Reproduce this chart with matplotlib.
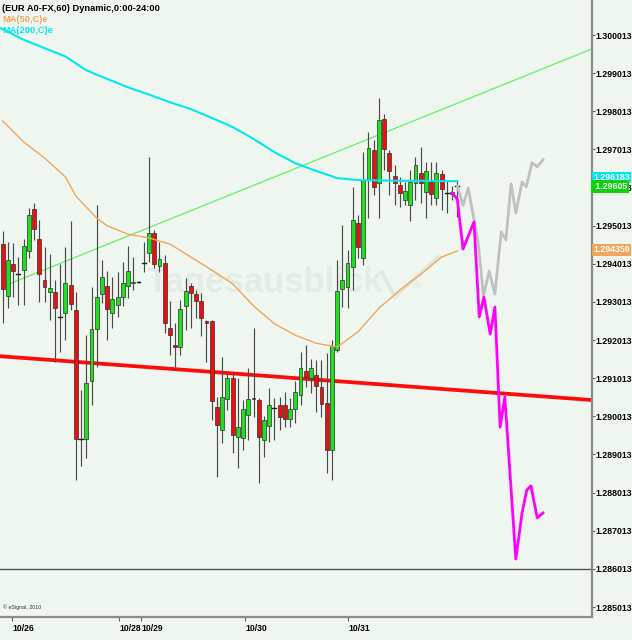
import matplotlib
matplotlib.use('Agg')
import matplotlib.pyplot as plt
from matplotlib.patches import Rectangle

plt.rcParams['font.family'] = ['Liberation Sans', 'DejaVu Sans']

# ---------------- data ----------------
opens = [1.29453, 1.29317, 1.29401, 1.29374, 1.29385, 1.29435, 1.29545, 1.29466, 1.29359, 1.29327,
         1.29327, 1.29262, 1.29272, 1.29346, 1.29280, 1.28942, 1.28942, 1.29093, 1.29230, 1.29322,
         1.29343, 1.29272, 1.29293, 1.29314, 1.29343, 1.29351, 1.29353, 1.29403, 1.29430, 1.29482,
         1.29395, 1.29403, 1.29234, 1.29188, 1.29183, 1.29290, 1.29343, 1.29322, 1.29304, 1.29251,
         1.29251, 1.29026, 1.28965, 1.29047, 1.29102, 1.28947, 1.28944, 1.29005, 1.29049, 1.29044,
         1.28939, 1.28976, 1.29023, 1.29031, 1.29031, 1.28994, 1.29020, 1.29057, 1.29120, 1.29102,
         1.29110, 1.29078, 1.29036, 1.28913, 1.29175, 1.29335, 1.29340, 1.29393, 1.29508, 1.29416,
         1.29624, 1.29700, 1.29613, 1.29781, 1.29692, 1.29631, 1.29608, 1.29569, 1.29555, 1.29613,
         1.29639, 1.29590, 1.29621, 1.29574, 1.29637, 1.29587, 1.29584, 1.29605]
highs = [1.29487, 1.29458, 1.29456, 1.29419, 1.29466, 1.29548, 1.29561, 1.29516, 1.29445, 1.29427,
         1.29359, 1.29401, 1.29445, 1.29513, 1.29327, 1.29070, 1.29214, 1.29340, 1.29555, 1.29411,
         1.29382, 1.29366, 1.29380, 1.29406, 1.29448, 1.29419, 1.29356, 1.29458, 1.29681, 1.29490,
         1.29458, 1.29424, 1.29304, 1.29246, 1.29306, 1.29364, 1.29351, 1.29332, 1.29325, 1.29254,
         1.29254, 1.29052, 1.29157, 1.29115, 1.29115, 1.29102, 1.29044, 1.29128, 1.29234, 1.29049,
         1.29002, 1.29075, 1.29049, 1.29052, 1.29065, 1.29049, 1.29093, 1.29170, 1.29188, 1.29151,
         1.29149, 1.29149, 1.29167, 1.29201, 1.29411, 1.29503, 1.29437, 1.29603, 1.29529, 1.29694,
         1.29747, 1.29726, 1.29836, 1.29794, 1.29700, 1.29660, 1.29629, 1.29616, 1.29647, 1.29681,
         1.29708, 1.29668, 1.29668, 1.29668, 1.29647, 1.29621, 1.29605, 1.29621]
lows = [1.29246, 1.29285, 1.29314, 1.29293, 1.29293, 1.29416, 1.29464, 1.29301, 1.29301, 1.29254,
        1.29144, 1.29170, 1.29201, 1.29280, 1.28834, 1.28871, 1.28892, 1.29031, 1.29131, 1.29298,
        1.29201, 1.29233, 1.29262, 1.29290, 1.29312, 1.29332, 1.29350, 1.29380, 1.29406, 1.29390,
        1.29380, 1.29220, 1.29162, 1.29131, 1.29162, 1.29227, 1.29233, 1.29259, 1.29212, 1.29144,
        1.28991, 1.28842, 1.28931, 1.29018, 1.28905, 1.28866, 1.28913, 1.28939, 1.28999, 1.28826,
        1.28895, 1.28934, 1.28939, 1.28965, 1.28973, 1.28973, 1.28984, 1.29031, 1.29078, 1.29062,
        1.29012, 1.28999, 1.28852, 1.28834, 1.29170, 1.29288, 1.29285, 1.29332, 1.29416, 1.29398,
        1.29521, 1.29582, 1.29521, 1.29647, 1.29582, 1.29555, 1.29550, 1.29555, 1.29513, 1.29569,
        1.29561, 1.29521, 1.29555, 1.29555, 1.29542, 1.29534, 1.29569, 1.29524]
closes = [1.29335, 1.29411, 1.29382, 1.29374, 1.29448, 1.29529, 1.29492, 1.29374, 1.29340, 1.29338,
          1.29285, 1.29262, 1.29351, 1.29296, 1.28942, 1.28942, 1.29089, 1.29230, 1.29314, 1.29366,
          1.29283, 1.29309, 1.29314, 1.29351, 1.29382, 1.29353, 1.29353, 1.29403, 1.29482, 1.29401,
          1.29414, 1.29246, 1.29214, 1.29183, 1.29283, 1.29330, 1.29325, 1.29304, 1.29259, 1.29246,
          1.29041, 1.28979, 1.29052, 1.29102, 1.28952, 1.28973, 1.29020, 1.29047, 1.29047, 1.28947,
          1.28991, 1.29031, 1.29023, 1.28999, 1.28994, 1.29020, 1.29065, 1.29128, 1.29104, 1.29128,
          1.29081, 1.29034, 1.28913, 1.29186, 1.29330, 1.29359, 1.29403, 1.29516, 1.29445, 1.29621,
          1.29705, 1.29603, 1.29778, 1.29702, 1.29645, 1.29613, 1.29587, 1.29592, 1.29616, 1.29660,
          1.29613, 1.29645, 1.29584, 1.29639, 1.29597, 1.29587, 1.29590, 1.29605]

ma200_x = [-0.5, 4, 8, 12, 16, 20, 24, 28, 32, 36, 40, 44, 48, 52, 56, 60, 64, 68, 72, 76, 80, 84, 87]
ma200_y = [1.30020, 1.29989, 1.29967, 1.29945, 1.29909, 1.29886, 1.29864, 1.29845, 1.29825, 1.29807,
           1.29784, 1.29760, 1.29729, 1.29694, 1.29665, 1.29645, 1.29626, 1.29621, 1.29620, 1.29619,
           1.29619, 1.29618, 1.29618]

ma50_x = [0, 4, 8, 12, 14, 16, 18, 20, 24, 28, 32, 36, 40, 44, 48, 52, 56, 60, 64, 68, 72, 76, 80, 84, 87]
ma50_y = [1.29776, 1.29721, 1.29679, 1.29629, 1.29579, 1.29550, 1.29521, 1.29501, 1.29479, 1.29469,
          1.29453, 1.29419, 1.29385, 1.29349, 1.29291, 1.29244, 1.29214, 1.29193, 1.29183, 1.29223,
          1.29285, 1.29332, 1.29374, 1.29419, 1.29435]

trend_x = [0.8, 112.8]
trend_y = [1.29346, 1.29965]
support_x = [-0.52, 112.8]
support_y = [1.29159, 1.29044]
level_price = 1.286013

bear_x = [86, 87, 88.1, 90.2, 91.2, 92.1, 93.3, 94.2, 95.2, 96.1, 98.2, 99.4, 100.3, 101.1, 102.3, 103.4]
bear_y = [1.29587, 1.29571, 1.29440, 1.29511, 1.29262, 1.29314, 1.29217, 1.29288, 1.28973, 1.29052,
          1.28627, 1.28748, 1.28808, 1.28819, 1.28735, 1.28748]
bull_x = [87, 88.1, 89.1, 91, 92, 93.1, 94.2, 95.4, 96.3, 97.3, 98.2, 99.4, 100.2, 101.3, 102.3, 103.4]
bull_y = [1.29605, 1.29555, 1.29600, 1.29456, 1.29317, 1.29382, 1.29322, 1.29485, 1.29464, 1.29611,
          1.29534, 1.29616, 1.29603, 1.29666, 1.29656, 1.29674]

date_ticks = [1.8, 22.3, 26.5, 46.4, 66.1]
date_labels = ['10/26', '10/28', '10/29', '10/30', '10/31']
price_ticks = [1.285013, 1.286013, 1.287013, 1.288013, 1.289013, 1.290013, 1.291013, 1.292013,
               1.293013, 1.294013, 1.295013, 1.296013, 1.297013, 1.298013, 1.299013, 1.300013]

ma200_last = '1.296183'
last_price = '1.29605'
ma50_last = '1.294359'

# ---------------- figure ----------------
W, H = 632, 640
BG = '#EFF6EF'
fig = plt.figure(figsize=(W / 100, H / 100), dpi=100, facecolor=BG)
ax = fig.add_axes([0, 23 / H, 592 / W, 617 / H], facecolor=BG)
ax.set_xlim(-0.517, 112.78)
ax.set_ylim(1.284751, 1.300931)

# watermark
ax.text(27.6, 1.29327, 'Tagesausblick', fontsize=25, fontweight='bold', color='#E2ECE2',
        ha='left', va='baseline', zorder=0)
ax.text(78.5, 1.29337, 'de', fontsize=6.5, fontweight='bold', color='#E2ECE2',
        ha='left', va='baseline', zorder=0)
ax.plot([72.5, 75.0, 83.5], [1.29380, 1.29315, 1.29420], color='#DEEADE', lw=3, zorder=0,
        solid_capstyle='round')

# reference lines
ax.axhline(level_price, color='#505050', lw=1, zorder=1)
ax.plot(support_x, support_y, color='#FF0A0A', lw=2.7, zorder=2, solid_capstyle='butt')
ax.plot(trend_x, trend_y, color='#66EE66', lw=0.9, zorder=2)

# candles
GREEN = '#1EE01E'
RED = '#EA1010'
bw = 0.74
for i, (o, h, l, c) in enumerate(zip(opens, highs, lows, closes)):
    ax.plot([i, i], [l, h], color='#4A4A4A', lw=0.85, zorder=3, solid_capstyle='butt')
    if abs(c - o) < 0.000015:
        ax.plot([i - bw / 2, i + bw / 2], [o, o], color='#202020', lw=1.0, zorder=4)
    else:
        col = GREEN if c > o else RED
        ax.add_patch(Rectangle((i - bw / 2, min(o, c)), bw, abs(c - o), facecolor=col,
                               edgecolor='#303030', lw=0.5, zorder=4))

# moving averages
ax.plot(ma200_x, ma200_y, color='#00E8EE', lw=1.5, zorder=5)
ax.plot(ma50_x, ma50_y, color='#F2A55A', lw=1.0, zorder=5)

# projections
ax.plot(bull_x, bull_y, color='#C0C0C0', lw=2.0, zorder=6)
ax.plot(bear_x, bear_y, color='#FF00FF', lw=2.0, zorder=7)

# axes styling
for s in ['top', 'left']:
    ax.spines[s].set_visible(False)
for s in ['right', 'bottom']:
    ax.spines[s].set_color('#8A8A8A')
    ax.spines[s].set_linewidth(1.6)

ax.yaxis.tick_right()
ax.set_yticks(price_ticks)
ax.set_yticklabels([f'{v:.6f}' for v in price_ticks], fontsize=6.3, fontweight='bold')
ax.tick_params(axis='y', length=2, width=0.8, color='#606060', pad=0.5)

ax.set_xticks(date_ticks)
ax.set_xticklabels(date_labels, fontsize=6.2, fontweight='bold')
ax.tick_params(axis='x', length=3, width=0.8, color='#606060', pad=2)
for lbl in ax.get_xticklabels():
    lbl.set_horizontalalignment('left')

# header texts
fig.text(2 / W, 1 - 8.5 / H, '(EUR A0-FX,60) Dynamic,0:00-24:00', fontsize=6.7, fontweight='bold',
         color='black', ha='left', va='center')
fig.text(2 / W, 1 - 19.5 / H, 'MA(50,C)e', fontsize=6.7, fontweight='bold', color='#F2A55A',
         ha='left', va='center')
fig.text(2 / W, 1 - 30.5 / H, 'MA(200,C)e', fontsize=6.7, fontweight='bold', color='#00E8EE',
         ha='left', va='center')
fig.text(3 / W, 1 - 607 / H, '\u00a9 eSignal, 2010', fontsize=3.8, color='#303030',
         ha='left', va='center')

# right-side value labels
fig.text(593 / W, 1 - 177.5 / H, ma200_last, fontsize=6.3, fontweight='bold', color='white',
         ha='left', va='center', bbox=dict(boxstyle='square,pad=0.12', fc='#00E8EE', ec='none'))
fig.text(593 / W, 1 - 186.5 / H, ' ' + last_price, fontsize=6.3, fontweight='bold', color='white',
         ha='left', va='center', bbox=dict(boxstyle='square,pad=0.18', fc='#10D010', ec='none'))
fig.text(593 / W, 1 - 250 / H, ma50_last, fontsize=6.3, fontweight='bold', color='white',
         ha='left', va='center', bbox=dict(boxstyle='square,pad=0.14', fc='#F0A55A', ec='none'))

fig.savefig('out.png', dpi=100, facecolor=BG)
